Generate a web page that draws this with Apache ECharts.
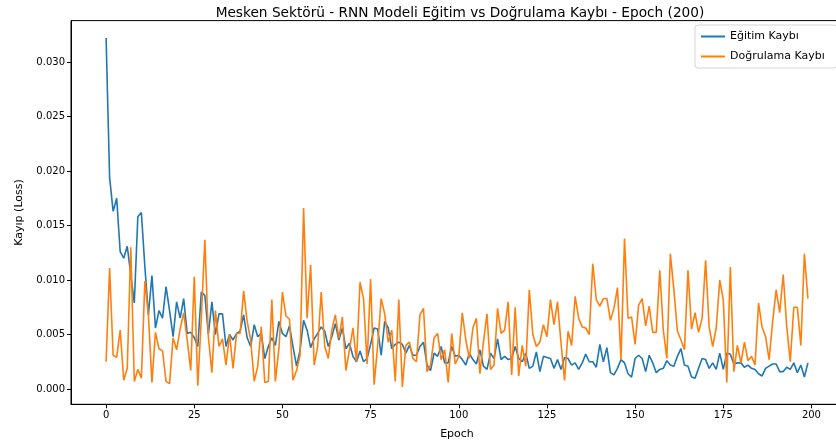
<!DOCTYPE html>
<html>
<head>
<meta charset="utf-8">
<script src="https://cdn.jsdelivr.net/npm/echarts@6/dist/echarts.min.js"></script>
<style>
    html, body {margin: 0; padding: 0; background: #fff;}
    #chart {width: 836px; height: 448px;}
</style>
</head>
<body>
<div id="chart"></div>
<script>
// epochs 0..199
const epochs = Array.from({length: 200}, (_, i) => i)

const trainLoss = [
    0.0322, 0.0194, 0.0163, 0.0175, 0.0126, 0.0120, 0.0131, 0.0105, 0.0079, 0.0158,
    0.0162, 0.0112, 0.0068, 0.0104, 0.0056, 0.0072, 0.0065, 0.0094, 0.0072, 0.0048,
    0.0080, 0.0065, 0.0083, 0.0051, 0.0052, 0.0047, 0.0039, 0.0089, 0.0086, 0.0050,
    0.0080, 0.0050, 0.0069, 0.0069, 0.0039, 0.0050, 0.0045, 0.0051, 0.0053, 0.0068,
    0.0047, 0.0039, 0.0059, 0.0048, 0.0051, 0.0028, 0.0039, 0.0047, 0.0040, 0.0062,
    0.0051, 0.0048, 0.0058, 0.0039, 0.0021, 0.0036, 0.0063, 0.0054, 0.0038, 0.0046,
    0.0051, 0.0057, 0.0053, 0.0039, 0.0048, 0.0060, 0.0045, 0.0056, 0.0037, 0.0042,
    0.0030, 0.0025, 0.0035, 0.0025, 0.0028, 0.0041, 0.0056, 0.0055, 0.0031, 0.0062,
    0.0056, 0.0037, 0.0041, 0.0043, 0.0041, 0.0033, 0.0040, 0.0031, 0.0031, 0.0039,
    0.0043, 0.0022, 0.0017, 0.0033, 0.0030, 0.0039, 0.0024, 0.0024, 0.0039, 0.0030,
    0.0031, 0.0027, 0.0022, 0.0033, 0.0027, 0.0023, 0.0036, 0.0021, 0.0018, 0.0033,
    0.0028, 0.0046, 0.0027, 0.0030, 0.0027, 0.0028, 0.0039, 0.0028, 0.0025, 0.0033,
    0.0019, 0.0021, 0.0034, 0.0016, 0.0030, 0.0029, 0.0028, 0.0019, 0.0027, 0.0018,
    0.0029, 0.0028, 0.0022, 0.0024, 0.0018, 0.0024, 0.0032, 0.0025, 0.0025, 0.0020,
    0.0041, 0.0025, 0.0038, 0.0015, 0.0013, 0.0019, 0.0027, 0.0024, 0.0014, 0.0011,
    0.0028, 0.0031, 0.0028, 0.0016, 0.0031, 0.0024, 0.0015, 0.0018, 0.0019, 0.0026,
    0.0022, 0.0021, 0.0030, 0.0037, 0.0022, 0.0021, 0.0011, 0.0010, 0.0019, 0.0028,
    0.0027, 0.0019, 0.0024, 0.0018, 0.0033, 0.0018, 0.0033, 0.0032, 0.0023, 0.0024,
    0.0024, 0.0020, 0.0022, 0.0019, 0.0018, 0.0014, 0.0012, 0.0019, 0.0021, 0.0023,
    0.0023, 0.0016, 0.0016, 0.0020, 0.0018, 0.0024, 0.0015, 0.0022, 0.0011, 0.0024,
]

const valLoss = [
    0.0025, 0.0111, 0.0031, 0.0029, 0.0054, 0.0008, 0.0019, 0.0130, 0.0007, 0.0018,
    0.0010, 0.0099, 0.0068, 0.0006, 0.0052, 0.0037, 0.0035, 0.0007, 0.0005, 0.0047,
    0.0036, 0.0055, 0.0070, 0.0045, 0.0017, 0.0103, 0.0003, 0.0065, 0.0137, 0.0048,
    0.0015, 0.0072, 0.0039, 0.0046, 0.0022, 0.0050, 0.0019, 0.0051, 0.0051, 0.0090,
    0.0062, 0.0045, 0.0007, 0.0021, 0.0057, 0.0006, 0.0007, 0.0082, 0.0007, 0.0037,
    0.0089, 0.0067, 0.0064, 0.0008, 0.0017, 0.0031, 0.0166, 0.0065, 0.0114, 0.0022,
    0.0039, 0.0089, 0.0039, 0.0028, 0.0054, 0.0068, 0.0047, 0.0066, 0.0017, 0.0036,
    0.0056, 0.0025, 0.0098, 0.0083, 0.0023, 0.0101, 0.0004, 0.0040, 0.0083, 0.0069,
    0.0043, 0.0054, 0.0007, 0.0082, 0.0002, 0.0040, 0.0043, 0.0028, 0.0025, 0.0068,
    0.0074, 0.0016, 0.0022, 0.0047, 0.0051, 0.0027, 0.0036, 0.0006, 0.0051, 0.0023,
    0.0030, 0.0070, 0.0045, 0.0028, 0.0056, 0.0065, 0.0014, 0.0043, 0.0069, 0.0018,
    0.0022, 0.0074, 0.0051, 0.0054, 0.0080, 0.0013, 0.0075, 0.0012, 0.0040, 0.0021,
    0.0091, 0.0050, 0.0039, 0.0043, 0.0059, 0.0048, 0.0082, 0.0059, 0.0080, 0.0042,
    0.0008, 0.0053, 0.0040, 0.0085, 0.0065, 0.0057, 0.0056, 0.0050, 0.0115, 0.0082,
    0.0076, 0.0083, 0.0083, 0.0063, 0.0074, 0.0093, 0.0027, 0.0138, 0.0065, 0.0066,
    0.0041, 0.0077, 0.0083, 0.0058, 0.0076, 0.0052, 0.0052, 0.0109, 0.0054, 0.0028,
    0.0124, 0.0091, 0.0053, 0.0045, 0.0036, 0.0109, 0.0055, 0.0070, 0.0052, 0.0065,
    0.0118, 0.0057, 0.0039, 0.0056, 0.0100, 0.0082, 0.0006, 0.0112, 0.0016, 0.0040,
    0.0024, 0.0043, 0.0026, 0.0030, 0.0022, 0.0079, 0.0057, 0.0048, 0.0027, 0.0062,
    0.0091, 0.0070, 0.0105, 0.0057, 0.0025, 0.0075, 0.0075, 0.0040, 0.0124, 0.0083,
]

const xTicks = [0, 25, 50, 75, 100, 125, 150, 175, 200]
const yTicks = [0, 0.005, 0.01, 0.015, 0.02, 0.025, 0.03]

const font = 'DejaVu Sans'

let myChart = echarts.init(document.getElementById('chart'), null, {renderer: 'canvas'})

const pairs = (ys) => epochs.map((e, i) => [e, ys[i]])

let option = {
    animation: false,
    backgroundColor: '#fff',
    textStyle: {fontFamily: font},
    title: {
        text: 'Mesken Sektörü - RNN Modeli Eğitim vs Doğrulama Kaybı - Epoch (200)',
        left: 455,
        top: 1,
        textAlign: 'center',
        textStyle: {fontFamily: font, fontSize: 13.7, fontWeight: 'normal', color: '#000'},
    },
    legend: {
        orient: 'vertical',
        left: 695,
        top: 25,
        padding: [6, 12, 6, 6],
        itemGap: 9,
        itemWidth: 24,
        itemHeight: 2,
        icon: 'rect',
        borderColor: '#d5d5d5',
        borderWidth: 1,
        borderRadius: 3,
        backgroundColor: 'rgba(255,255,255,0.8)',
        textStyle: {fontFamily: font, fontSize: 11, color: '#000'},
        data: ['Eğitim Kaybı', 'Doğrulama Kaybı'],
    },
    // the plot box runs a few pixels past the right edge of the picture
    grid: {
        left: 71,
        top: 20.6,
        width: 772,
        height: 383.7,
        show: true,
        borderColor: '#000',
        borderWidth: 1,
        containLabel: false,
        outerBoundsMode: 'none',
    },
    xAxis: {
        type: 'value',
        min: -9.95,
        max: 208.95,
        name: 'Epoch',
        nameLocation: 'middle',
        nameGap: 24,
        nameTextStyle: {fontFamily: font, fontSize: 11, color: '#000'},
        splitLine: {show: false},
        axisLine: {show: true, onZero: false, lineStyle: {color: '#000', width: 1}},
        axisTick: {show: true, length: 4, customValues: xTicks, lineStyle: {color: '#000'}},
        axisLabel: {
            customValues: xTicks,
            margin: 6,
            fontFamily: font,
            fontSize: 10,
            color: '#000',
        },
    },
    yAxis: {
        type: 'value',
        min: -0.0014,
        max: 0.0338,
        name: 'Kayıp (Loss)',
        nameLocation: 'middle',
        nameGap: 46,
        nameRotate: 90,
        nameTextStyle: {fontFamily: font, fontSize: 11, color: '#000'},
        splitLine: {show: false},
        axisLine: {show: true, onZero: false, lineStyle: {color: '#000', width: 1}},
        axisTick: {show: true, length: 4, customValues: yTicks, lineStyle: {color: '#000'}},
        axisLabel: {
            customValues: yTicks,
            margin: 6,
            fontFamily: font,
            fontSize: 10,
            color: '#000',
            formatter: (v) => v.toFixed(3),
        },
    },
    series: [
        {
            name: 'Eğitim Kaybı',
            type: 'line',
            data: pairs(trainLoss),
            showSymbol: false,
            symbol: 'none',
            lineStyle: {color: '#1f77b4', width: 1.6},
            itemStyle: {color: '#1f77b4'},
        },
        {
            name: 'Doğrulama Kaybı',
            type: 'line',
            data: pairs(valLoss),
            showSymbol: false,
            symbol: 'none',
            lineStyle: {color: '#ff7f0e', width: 1.6},
            itemStyle: {color: '#ff7f0e'},
        },
    ],
}

myChart.setOption(option)
</script>
</body>
</html>
